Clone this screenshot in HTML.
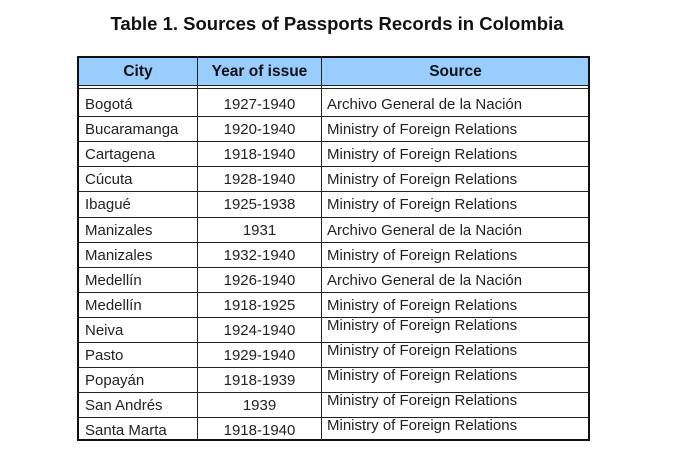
<!DOCTYPE html>
<html><head><meta charset="utf-8"><style>
body{margin:0;width:674px;height:469px;background:#fff;position:relative;overflow:hidden;font-family:"Liberation Sans",Arial,sans-serif;}
.a{position:absolute;}
#title{left:0;width:674px;top:13px;text-align:center;font-weight:bold;font-size:18.5px;color:#111;}
#tbl{left:77px;top:56px;width:513px;height:385px;border:2px solid #111;box-sizing:border-box;}
#hdr{left:79px;top:58px;width:510px;height:27px;background:#99ccff;}
.h{font-weight:bold;font-size:15.5px;color:#111;text-align:center;top:63px;}
.hl{left:79px;width:510px;height:1px;background:#222;}
.vl{width:1px;background:#222;top:56px;height:385px;}
.c{font-size:15px;color:#222;white-space:nowrap;}
</style></head><body>
<div id="title" class="a">Table 1. Sources of Passports Records in Colombia</div>
<div id="hdr" class="a"></div>
<div id="tbl" class="a"></div>
<div class="a hl" style="top:85px;"></div>
<div class="a hl" style="top:88px;"></div>
<div class="a vl" style="left:197px;"></div>
<div class="a vl" style="left:321px;"></div>
<div class="a h" style="left:79px;width:118px;">City</div>
<div class="a h" style="left:198px;width:123px;">Year of issue</div>
<div class="a h" style="left:322px;width:267px;">Source</div>
<div id="rows"></div>
<script>
const cities=["Bogotá","Bucaramanga","Cartagena","Cúcuta","Ibagué","Manizales","Manizales","Medellín","Medellín","Neiva","Pasto","Popayán","San Andrés","Santa Marta"];
const years=["1927-1940","1920-1940","1918-1940","1928-1940","1925-1938","1931","1932-1940","1926-1940","1918-1925","1924-1940","1929-1940","1918-1939","1939","1918-1940"];
const sources=["Archivo General de la Nación","Ministry of Foreign Relations","Ministry of Foreign Relations","Ministry of Foreign Relations","Ministry of Foreign Relations","Archivo General de la Nación","Ministry of Foreign Relations","Archivo General de la Nación","Ministry of Foreign Relations","Ministry of Foreign Relations","Ministry of Foreign Relations","Ministry of Foreign Relations","Ministry of Foreign Relations","Ministry of Foreign Relations"];
const root=document.getElementById('rows');
const top0=91,rh=25.1;
cities.forEach((c,i)=>{
  const y=top0+i*rh;
  if(i<cities.length-1){
    const l=document.createElement('div');l.className='a hl';l.style.top=Math.round(y+rh)+'px';
    
    
    root.appendChild(l);
  }
  const ty=Math.round(y+5);
  const a=document.createElement('div');a.className='a c';a.style.left='85px';a.style.top=ty+'px';a.textContent=c;
  
  
  root.appendChild(a);
  const b=document.createElement('div');b.className='a c';b.style.left='198px';b.style.width='123px';b.style.textAlign='center';b.style.top=ty+'px';b.textContent=years[i];
  
  
  root.appendChild(b);
  const s=document.createElement('div');s.className='a c';s.style.left='327px';s.style.top=(i>=9?ty-5:ty)+'px';s.textContent=sources[i];
  
  
  root.appendChild(s);
});
</script>
</body></html>
